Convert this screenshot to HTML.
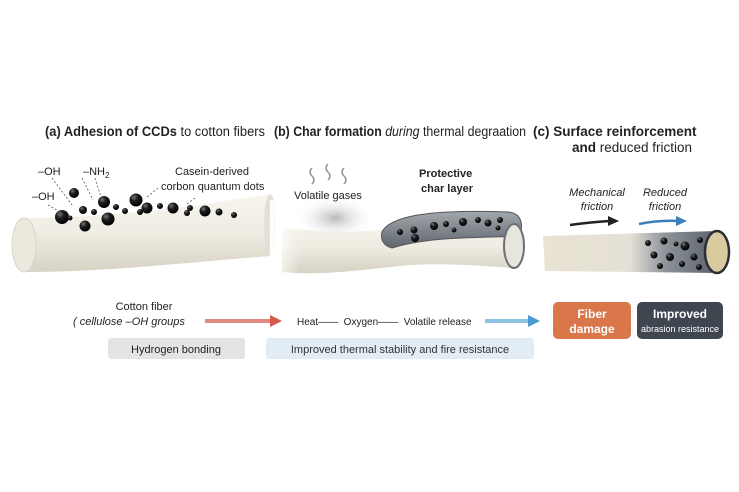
<!DOCTYPE html>
<html><head><meta charset="utf-8"><style>
html,body{margin:0;padding:0;background:#fff;}
svg{display:block;font-family:"Liberation Sans","DejaVu Sans",sans-serif;}
</style></head><body>
<svg width="739" height="492" viewBox="0 0 739 492" xmlns="http://www.w3.org/2000/svg">
<defs>
<linearGradient id="fib" x1="0" y1="0" x2="0" y2="1">
<stop offset="0" stop-color="#f7f5ee"/><stop offset="0.5" stop-color="#efece2"/><stop offset="1" stop-color="#d6d2c4"/></linearGradient>
<radialGradient id="dot" cx="0.35" cy="0.3" r="0.7"><stop offset="0" stop-color="#777"/><stop offset="0.4" stop-color="#1e1e1e"/><stop offset="1" stop-color="#000"/></radialGradient>
<linearGradient id="fadeL" x1="0" y1="0" x2="1" y2="0"><stop offset="0" stop-color="#fff" stop-opacity="1"/><stop offset="1" stop-color="#fff" stop-opacity="0"/></linearGradient>
<linearGradient id="char" x1="0" y1="0" x2="0" y2="1"><stop offset="0" stop-color="#a3a8ae"/><stop offset="1" stop-color="#5f656d"/></linearGradient>
<linearGradient id="cfib" x1="0" y1="0" x2="1" y2="0"><stop offset="0" stop-color="#e8e3d2"/><stop offset="0.5" stop-color="#e4e0d6"/><stop offset="0.7" stop-color="#8e949b"/><stop offset="1" stop-color="#5a6068"/></linearGradient>
<radialGradient id="smoke" cx="0.5" cy="0.5" r="0.5"><stop offset="0" stop-color="#b8b8b8"/><stop offset="1" stop-color="#fff" stop-opacity="0"/></radialGradient>
</defs>

<!-- titles -->
<text x="45" y="136" font-size="13.5" fill="#222" textLength="220" lengthAdjust="spacingAndGlyphs"><tspan font-weight="bold">(a) Adhesion of CCDs</tspan> to cotton fibers</text>
<text x="274" y="136" font-size="13.5" fill="#222" textLength="252" lengthAdjust="spacingAndGlyphs"><tspan font-weight="bold">(b) Char formation</tspan> <tspan font-style="italic">during</tspan> thermal degraation</text>
<text x="533" y="136" font-size="13.5" font-weight="bold" fill="#222">(c) Surface reinforcement</text>
<text x="572" y="152" font-size="13.5" fill="#222"><tspan font-weight="bold">and</tspan> reduced friction</text>

<!-- fiber a -->
<path d="M24,218 C100,218 190,208 268,194 L272,256 C190,262 110,272 24,272 Z" fill="url(#fib)"/>
<ellipse cx="24" cy="245" rx="12" ry="27" fill="#ebe8de" stroke="#d8d4c8"/>
<ellipse cx="270" cy="225" rx="6" ry="31" fill="#e4e0d4"/>
<g fill="url(#dot)">
<circle cx="62" cy="217" r="7"/><circle cx="74" cy="193" r="5"/><circle cx="83" cy="210" r="4"/><circle cx="85" cy="226" r="5.5"/>
<circle cx="94" cy="212" r="3"/><circle cx="104" cy="202" r="6"/><circle cx="108" cy="219" r="6.5"/><circle cx="116" cy="207" r="3"/>
<circle cx="125" cy="211" r="3"/><circle cx="136" cy="200" r="6.5"/><circle cx="140" cy="212" r="3"/><circle cx="147" cy="208" r="5.5"/>
<circle cx="160" cy="206" r="3"/><circle cx="173" cy="208" r="5.5"/><circle cx="187" cy="213" r="3"/><circle cx="190" cy="208" r="3"/>
<circle cx="205" cy="211" r="5.5"/><circle cx="219" cy="212" r="3.5"/><circle cx="234" cy="215" r="3"/><circle cx="70" cy="218" r="2.5"/>
</g>
<g stroke="#555" stroke-dasharray="2,2" fill="none" stroke-width="0.8">
<path d="M48,205 L60,212"/><path d="M52,178 L72,205"/><path d="M82,178 L93,200"/><path d="M95,178 L101,197"/><path d="M158,188 L146,198"/><path d="M195,198 L187,204"/>
</g>
<text x="38" y="175" font-size="11" fill="#222">–OH</text>
<text x="32" y="200" font-size="11" fill="#222">–OH</text>
<text x="83" y="175" font-size="11" fill="#222">–NH<tspan font-size="8" dy="3">2</tspan></text>
<text x="175" y="175" font-size="11" fill="#222">Casein-derived</text>
<text x="161" y="190" font-size="11" fill="#222">corbon quantum dots</text>

<!-- fiber b -->
<ellipse cx="335" cy="218" rx="40" ry="22" fill="url(#smoke)"/>
<g stroke="#999" fill="none" stroke-width="1.5">
<path d="M312,168 q-4,4 0,8 q4,4 0,8"/><path d="M328,164 q-4,4 0,8 q4,4 0,8"/><path d="M344,168 q-4,4 0,8 q4,4 0,8"/>
</g>
<text x="294" y="199" font-size="11" fill="#222">Volatile gases</text>
<text x="419" y="177" font-size="11" font-weight="bold" fill="#222">Protective</text>
<text x="421" y="192" font-size="11" font-weight="bold" fill="#222">char layer</text>
<path d="M282,228 C330,232 370,234 400,226 C450,214 490,224 515,226 L515,268 C480,266 440,262 400,266 C360,270 320,276 282,272 Z" fill="url(#fib)"/>
<path d="M382,232 C392,212 450,210 508,212 C520,213 524,222 520,236 C480,238 430,236 392,248 C384,246 380,240 382,232 Z" fill="url(#char)" stroke="#555"/>
<ellipse cx="514" cy="246" rx="10" ry="22" fill="#e8e6dc" stroke="#6b7076" stroke-width="2"/>
<g fill="url(#dot)">
<circle cx="400" cy="232" r="3"/><circle cx="414" cy="230" r="3.5"/><circle cx="415" cy="238" r="4"/><circle cx="434" cy="226" r="4"/>
<circle cx="446" cy="224" r="3"/><circle cx="463" cy="222" r="4"/><circle cx="478" cy="220" r="3"/><circle cx="488" cy="223" r="3.5"/>
<circle cx="500" cy="220" r="3"/><circle cx="454" cy="230" r="2.5"/><circle cx="498" cy="228" r="2.5"/>
</g>
<rect x="270" y="200" width="30" height="80" fill="url(#fadeL)"/>

<!-- fiber c -->
<text x="597" y="196" font-size="11" font-style="italic" fill="#222" text-anchor="middle">Mechanical</text>
<text x="597" y="210" font-size="11" font-style="italic" fill="#222" text-anchor="middle">friction</text>
<text x="665" y="196" font-size="11" font-style="italic" fill="#222" text-anchor="middle">Reduced</text>
<text x="665" y="210" font-size="11" font-style="italic" fill="#222" text-anchor="middle">friction</text>
<path d="M570,225 Q592,222 610,221" stroke="#222" stroke-width="2.5" fill="none"/>
<path d="M608,216 L619,221 L608,226 z" fill="#222"/>
<path d="M639,224 Q660,220 678,221" stroke="#3c7fb8" stroke-width="2.5" fill="none"/>
<path d="M676,216 L687,221 L676,226 z" fill="#3c7fb8"/>
<path d="M543,236 L717,231 L717,273 L545,271 Z" fill="url(#cfib)"/>
<ellipse cx="717" cy="252" rx="12" ry="21" fill="#d8cba0" stroke="#2c2f33" stroke-width="2.5"/>
<g fill="url(#dot)">
<circle cx="648" cy="243" r="3"/><circle cx="664" cy="241" r="3.5"/><circle cx="685" cy="246" r="4.5"/><circle cx="700" cy="240" r="3"/>
<circle cx="654" cy="255" r="3.5"/><circle cx="670" cy="257" r="4"/><circle cx="694" cy="257" r="3.5"/><circle cx="660" cy="266" r="3"/>
<circle cx="682" cy="264" r="3"/><circle cx="699" cy="267" r="3"/><circle cx="676" cy="244" r="2.5"/>
</g>

<!-- bottom row -->
<text x="144" y="310" font-size="11" fill="#222" text-anchor="middle">Cotton fiber</text>
<text x="73" y="325" font-size="11" font-style="italic" fill="#222">( cellulose –OH groups</text>
<path d="M205,321 L272,321" stroke="#e08a80" stroke-width="4"/>
<path d="M270,315 L282,321 L270,327 z" fill="#d9574c"/>
<text x="297" y="325" font-size="10" fill="#222">Heat—— &#160;Oxygen—— &#160;Volatile release</text>
<path d="M485,321 L530,321" stroke="#8fc3e3" stroke-width="4"/>
<path d="M528,315 L540,321 L528,327 z" fill="#4a9ad0"/>
<rect x="553" y="302" width="78" height="37" rx="5" fill="#d9774a"/>
<text x="592" y="318" font-size="12" font-weight="bold" fill="#fff" text-anchor="middle">Fiber</text>
<text x="592" y="333" font-size="12" font-weight="bold" fill="#fff" text-anchor="middle">damage</text>
<rect x="637" y="302" width="86" height="37" rx="5" fill="#3f4650"/>
<text x="680" y="318" font-size="12" font-weight="bold" fill="#fff" text-anchor="middle">Improved</text>
<text x="680" y="332" font-size="9" fill="#fff" text-anchor="middle">abrasion resistance</text>
<rect x="108" y="338" width="137" height="21" rx="3" fill="#e4e4e4"/>
<text x="176" y="353" font-size="11" fill="#222" text-anchor="middle">Hydrogen bonding</text>
<rect x="266" y="338" width="268" height="21" rx="3" fill="#e2ecf4"/>
<text x="400" y="353" font-size="11" fill="#333" text-anchor="middle">Improved thermal stability and fire resistance</text>
</svg>
</body></html>
